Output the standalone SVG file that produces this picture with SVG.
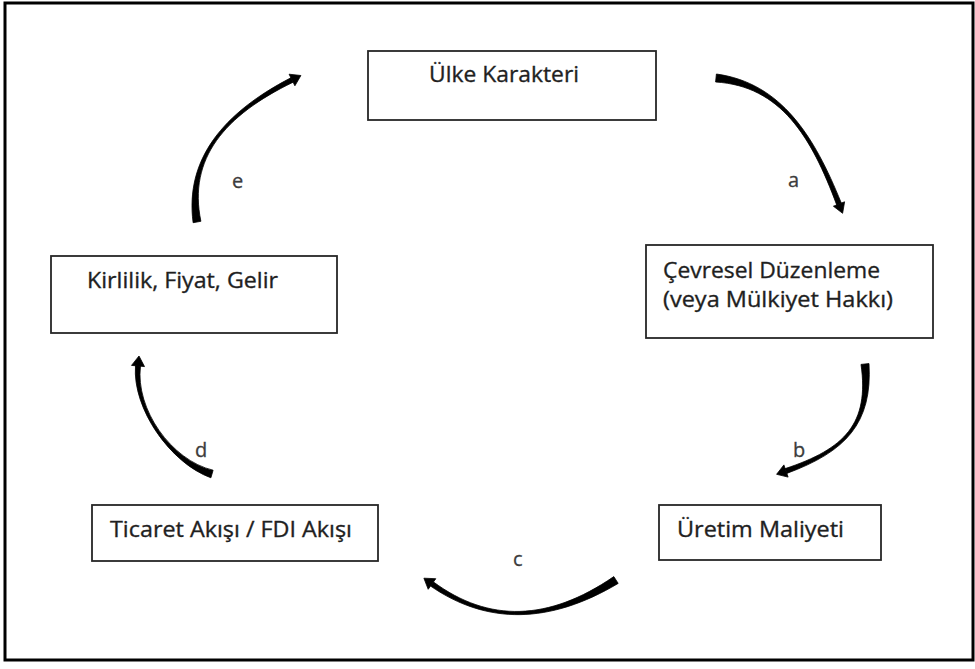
<svg xmlns="http://www.w3.org/2000/svg" width="975" height="669" viewBox="0 0 975 669">
  <style>
    .frame { fill: #ffffff; stroke: #000000; stroke-width: 3; }
    .box { fill: #ffffff; stroke: #262626; stroke-width: 1.8; }
    .txt { font-family: "Open Sans", "Noto Sans", "Liberation Sans", sans-serif; font-size: 22px; fill: #1f1f1f; stroke: #1f1f1f; stroke-width: 0.35; }
    .lbl { font-family: "Open Sans", "Noto Sans", "Liberation Sans", sans-serif; font-size: 20px; fill: #3c3c3c; stroke: #3c3c3c; stroke-width: 0.3; }
    .arc { fill: #000000; stroke: #000000; stroke-width: 0.8; stroke-linejoin: round; }
  </style>

  <!-- outer border -->
  <rect class="frame" x="5" y="3" width="968" height="657"/>

  <!-- nodes -->
  <g id="ulke-karakteri">
    <rect class="box" x="368" y="51" width="288" height="69"/>
    <text class="txt" x="429" y="82" textLength="150" lengthAdjust="spacingAndGlyphs">Ülke Karakteri</text>
  </g>

  <g id="cevresel-duzenleme">
    <rect class="box" x="646" y="245" width="287" height="93"/>
    <text class="txt" x="663" y="278" textLength="217" lengthAdjust="spacingAndGlyphs">Çevresel Düzenleme</text>
    <text class="txt" x="663" y="307" textLength="230" lengthAdjust="spacingAndGlyphs">(veya Mülkiyet Hakkı)</text>
  </g>

  <g id="uretim-maliyeti">
    <rect class="box" x="659" y="505" width="222" height="55"/>
    <text class="txt" x="677" y="537" textLength="167" lengthAdjust="spacingAndGlyphs">Üretim Maliyeti</text>
  </g>

  <g id="ticaret-akisi">
    <rect class="box" x="92" y="505" width="286" height="56"/>
    <text class="txt" x="110" y="537" textLength="242" lengthAdjust="spacingAndGlyphs">Ticaret Akışı / FDI Akışı</text>
  </g>

  <g id="kirlilik-fiyat-gelir">
    <rect class="box" x="51" y="256" width="286" height="77"/>
    <text class="txt" x="87" y="288" textLength="191" lengthAdjust="spacingAndGlyphs">Kirlilik, Fiyat, Gelir</text>
  </g>

  <!-- curved tapered connectors: body + head -->
  <g id="connectors">
    <g id="arrow-a">
      <path class="arc" d="M715.6,82 C780.75,86 811.4,136.7 836.7,204.9 L841.3,203.1 C814.2,135.7 781.05,83 716.4,74 Z"/>
      <polygon class="arc" points="833.4,206.2 844.6,201.8 842.6,213.3"/>
      <text class="lbl" x="788" y="187">a</text>
    </g>
    <g id="arrow-b">
      <path class="arc" d="M861,364.4 C869.5,423.65 844.9,448.8 785.2,468.6 L786.8,473.4 C845.9,451.6 872.5,423.35 869,363.6 Z"/>
      <polygon class="arc" points="783.9,464.9 788.1,477.1 776.6,474.3"/>
      <text class="lbl" x="793" y="457">b</text>
    </g>
    <g id="arrow-c">
      <path class="arc" d="M613.8,576.6 C548.5,621.4 488.9,622.8 433.5,582 L430.5,586 C487.1,625.2 550.1,624 618.2,583.4 Z"/>
      <polygon class="arc" points="435.8,578.7 428.2,589.3 423.9,578.2"/>
      <text class="lbl" x="513" y="566">c</text>
    </g>
    <g id="arrow-d">
      <path class="arc" d="M213.1,470.2 C171.2,460.3 135.2,408.9 140.5,366.2 L135.5,365.8 C132.2,408.7 170.4,463.1 210.9,477.8 Z"/>
      <polygon class="arc" points="144.5,366.6 131.5,365.4 139,356"/>
      <text class="lbl" x="195" y="457">d</text>
    </g>
    <g id="arrow-e">
      <path class="arc" d="M200.9,221.3 C187.8,158.55 224.8,115.3 293.1,82.2 L290.9,77.8 C223.4,112.7 184.8,159.05 193.1,222.7 Z"/>
      <polygon class="arc" points="294.9,85.8 289.1,74.2 300.9,75.5"/>
      <text class="lbl" x="232" y="188">e</text>
    </g>
  </g>
</svg>
